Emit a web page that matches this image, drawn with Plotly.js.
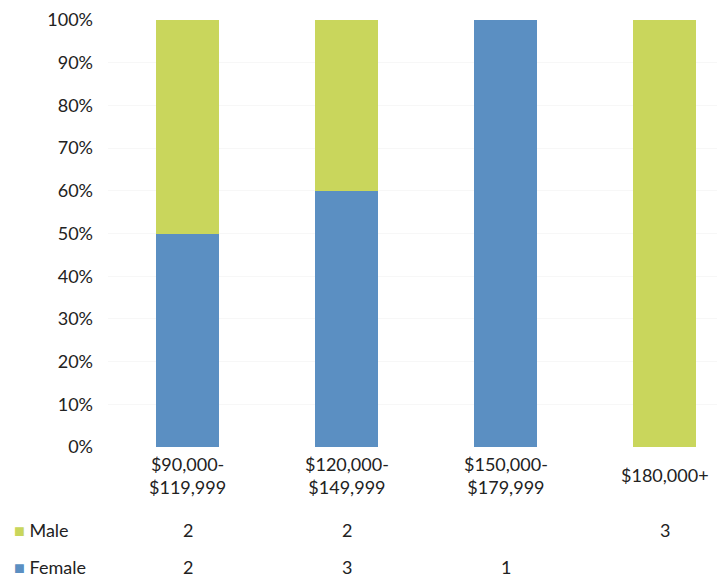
<!DOCTYPE html>
<html>
<head>
<meta charset="utf-8">
<script src="https://cdn.plot.ly/plotly-3.0.1.min.js"></script>
<style>html,body{margin:0;padding:0;background:#fff;}#chart{width:717px;height:579px;}</style>
</head>
<body>
<div id="chart"></div>
<script>
var categories = ["$90,000-<br>$119,999", "$120,000-<br>$149,999", "$150,000-<br>$179,999", "$180,000+"];
var seriesNames = ["Female", "Male"];
var femaleCounts = [2, 3, 1, 0];
var maleCounts = [2, 2, 0, 3];
var yTickVals = [0, 10, 20, 30, 40, 50, 60, 70, 80, 90, 100];
var yTickLabels = ["0%", "10%", "20%", "30%", "40%", "50%", "60%", "70%", "80%", "90%", "100%"];

var femaleColor = "#5b8fc2";
var maleColor = "#c9d65c";
var fontFam = "Lato, 'Open Sans', sans-serif";
var fs = 18;
var idx = categories.map(function(c, i){ return i; });

var traces = [
  {type: "bar", name: seriesNames[0], x: idx, y: femaleCounts, marker: {color: femaleColor}, width: 0.4, hoverinfo: "none"},
  {type: "bar", name: seriesNames[1], x: idx, y: maleCounts, marker: {color: maleColor}, width: 0.4, hoverinfo: "none"}
];

var plotL = 108, plotW = 609, plotH = 427;
function py(pix){ return (447 - pix) / plotH; }
function px(pix){ return (pix - plotL) / plotW; }

var annotations = [];
categories.forEach(function(c, i){
  annotations.push({x: i, xref: "x", y: py(475), yref: "paper", text: c, showarrow: false,
    yanchor: "middle", xanchor: "center", align: "center", font: {family: fontFam, size: fs, color: "#222"}});
  annotations.push({x: i, xref: "x", y: py(530), yref: "paper", text: maleCounts[i] ? String(maleCounts[i]) : "", showarrow: false,
    yanchor: "middle", font: {family: fontFam, size: fs, color: "#222"}});
  annotations.push({x: i, xref: "x", y: py(567), yref: "paper", text: femaleCounts[i] ? String(femaleCounts[i]) : "", showarrow: false,
    yanchor: "middle", font: {family: fontFam, size: fs, color: "#222"}});
});
annotations.push({x: px(12), xref: "paper", xanchor: "left", y: py(530), yref: "paper", showarrow: false, yanchor: "middle",
  text: '<span style="color:' + maleColor + '">■</span> ' + seriesNames[1], font: {family: fontFam, size: fs, color: "#222"}});
annotations.push({x: px(12), xref: "paper", xanchor: "left", y: py(567), yref: "paper", showarrow: false, yanchor: "middle",
  text: '<span style="color:' + femaleColor + '">■</span> ' + seriesNames[0], font: {family: fontFam, size: fs, color: "#222"}});

var layout = {
  width: 717, height: 579,
  margin: {l: 108, r: 0, t: 20, b: 132},
  barmode: "stack", barnorm: "percent",
  showlegend: false,
  paper_bgcolor: "#fff", plot_bgcolor: "#fff",
  font: {family: fontFam, size: fs, color: "#222"},
  xaxis: {range: [-0.5, 3.33], showticklabels: false, showgrid: false, zeroline: false, showline: false, ticks: ""},
  yaxis: {range: [0, 100], tickmode: "array", tickvals: yTickVals, ticktext: yTickLabels, showgrid: true, gridcolor: "#f7f7f7",
    zeroline: false, showline: false, ticks: "", ticklabelstandoff: 14, tickfont: {family: fontFam, size: fs, color: "#222"}},
  annotations: annotations
};

Plotly.newPlot("chart", traces, layout, {displayModeBar: false, staticPlot: true});
</script>
</body>
</html>
